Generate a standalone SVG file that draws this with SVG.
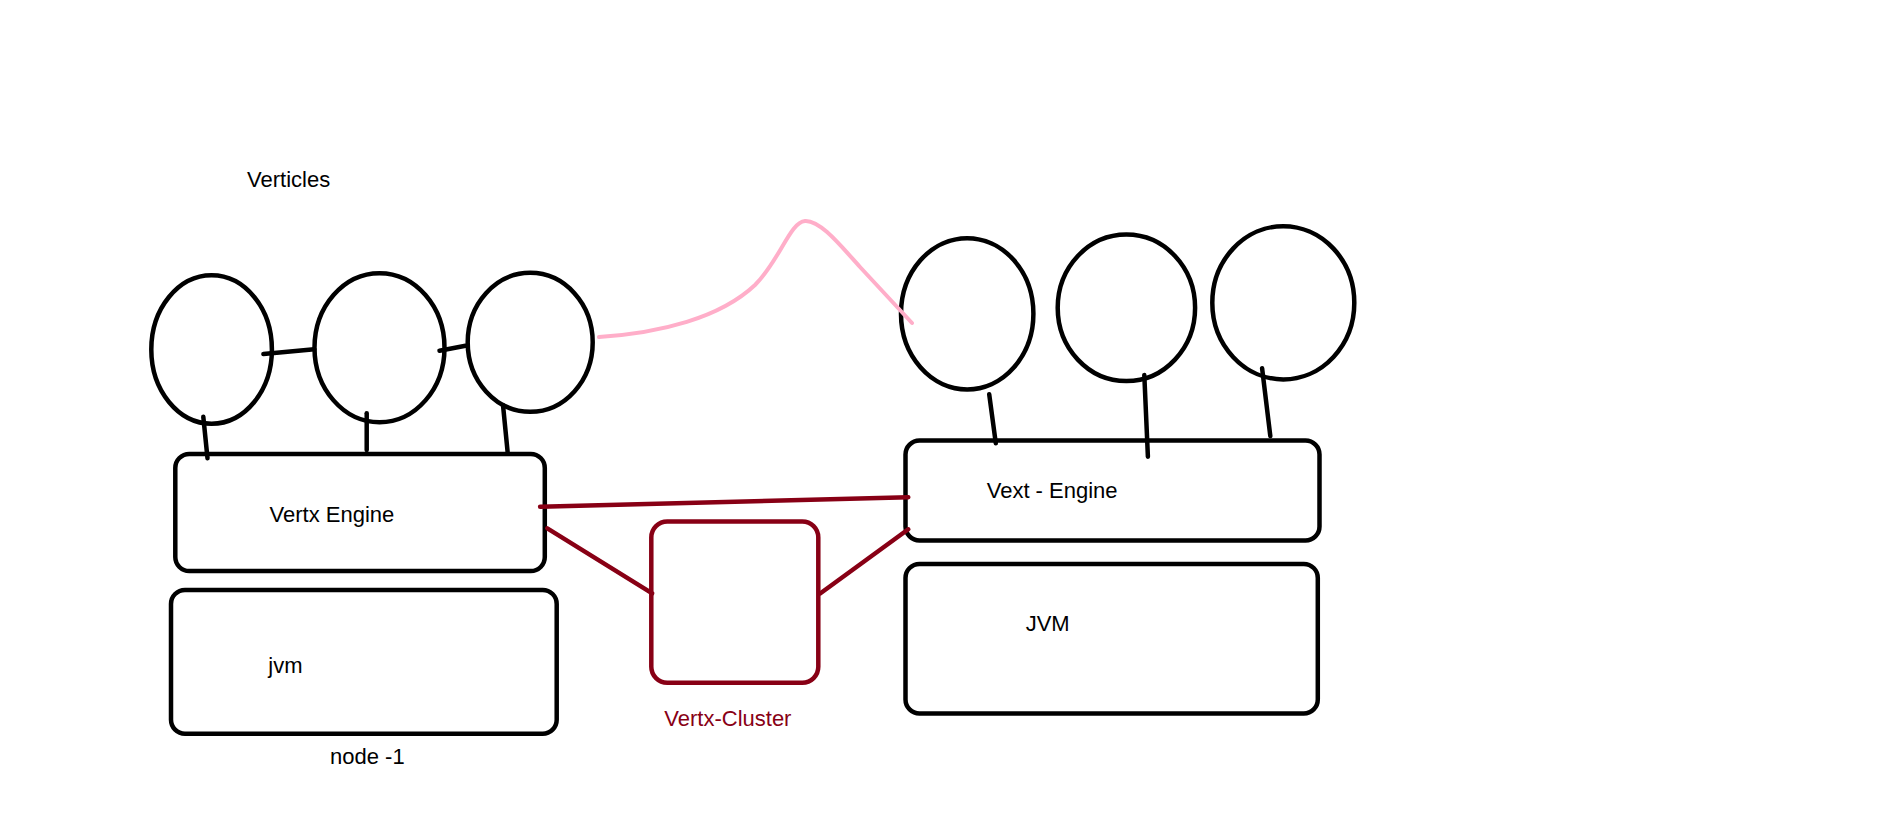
<svg xmlns="http://www.w3.org/2000/svg" width="1898" height="834" viewBox="0 0 1898 834">
<style>
.bk{fill:none;stroke:#000;stroke-width:4.5;stroke-linecap:round}
.rd{fill:none;stroke:#880015;stroke-width:4.5;stroke-linecap:round}
.pk{fill:none;stroke:#ffaec9;stroke-width:4;stroke-linecap:round}
.t{font-family:"Liberation Sans",Arial,sans-serif;font-size:22px;fill:#000}
.tr{font-family:"Liberation Sans",Arial,sans-serif;font-size:22px;fill:#880015}
</style>
<rect width="1898" height="834" fill="#fff"/>
<text class="t" x="247" y="187">Verticles</text>
<g id="v1"><ellipse class="bk" cx="211.6" cy="349.5" rx="60.3" ry="74.2"/></g>
<g id="v2"><ellipse class="bk" cx="379.5" cy="347.7" rx="65" ry="74.5"/></g>
<g id="v3"><ellipse class="bk" cx="530.2" cy="342.3" rx="62.5" ry="69.5"/></g>
<g id="v4"><ellipse class="bk" cx="967.2" cy="313.8" rx="66.2" ry="75.6"/></g>
<g id="v5"><ellipse class="bk" cx="1126.4" cy="307.8" rx="68.7" ry="73.3"/></g>
<g id="v6"><ellipse class="bk" cx="1283.3" cy="302.8" rx="71" ry="76.6"/></g>
<g id="vertx-engine"><rect class="bk" x="175.3" y="453.9" width="369.5" height="117.2" rx="14"/><text class="t" x="269.5" y="522">Vertx Engine</text></g>
<g id="jvm1"><rect class="bk" x="171" y="589.9" width="385.7" height="143.9" rx="14"/><text class="t" x="268.3" y="673">jvm</text></g>
<text class="t" x="330" y="764">node -1</text>
<g id="cluster"><rect class="rd" x="651.3" y="521.5" width="167" height="161.3" rx="16"/><text class="tr" x="664.3" y="726">Vertx-Cluster</text></g>
<g id="vext-engine"><rect class="bk" x="905.5" y="440.5" width="414" height="100" rx="14"/><text class="t" x="986.7" y="497.7">Vext - Engine</text></g>
<g id="jvm2"><rect class="bk" x="905.5" y="563.9" width="412.3" height="149.6" rx="14"/><text class="t" x="1025.7" y="631">JVM</text></g>
<g id="connectors">
<line class="bk" x1="263.4" y1="354" x2="314.3" y2="349.3"/>
<line class="bk" x1="439.5" y1="350.7" x2="465.5" y2="345.7"/>
<line class="bk" x1="203.3" y1="416.7" x2="207.5" y2="458.3"/>
<line class="bk" x1="366.7" y1="413.3" x2="366.7" y2="450"/>
<line class="bk" x1="503" y1="405" x2="507.6" y2="451.7"/>
<line class="bk" x1="989.2" y1="394.3" x2="995.8" y2="443.3"/>
<line class="bk" x1="1144.3" y1="375" x2="1147.9" y2="456.7"/>
<line class="bk" x1="1262.1" y1="368.3" x2="1270.3" y2="436"/>
<line class="rd" x1="540.1" y1="506.7" x2="908.3" y2="497.3"/>
<line class="rd" x1="547.3" y1="528.3" x2="652.2" y2="593.3"/>
<line class="rd" x1="820.5" y1="593.3" x2="908.3" y2="529.3"/>
<path class="pk" d="M599,337 C660,333 720,318 755,285 C780,260 790,222 805,221 C820,220 840,245 860,267 L912,323"/>
</g>
</svg>
